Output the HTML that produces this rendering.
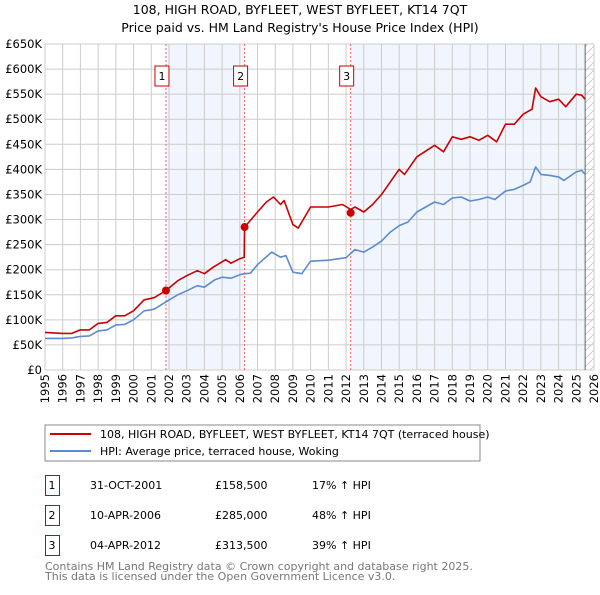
<!DOCTYPE html>
<html><head><meta charset="utf-8"><style>
body{margin:0;background:#fff;font-family:"Liberation Sans","DejaVu Sans",sans-serif}
svg text{font-family:"DejaVu Sans","Liberation Sans",sans-serif}
</style></head><body>
<svg id="chart" width="600" height="590" xmlns="http://www.w3.org/2000/svg">
<text x="300" y="14" text-anchor="middle" font-size="12.5">108, HIGH ROAD, BYFLEET, WEST BYFLEET, KT14 7QT</text>
<text x="300" y="32" text-anchor="middle" font-size="12.5">Price paid vs. HM Land Registry's House Price Index (HPI)</text>
<g id="plot"></g>
<rect x="45" y="425" width="435" height="36" fill="none" stroke="#888"/>
<line x1="50" y1="434" x2="91" y2="434" stroke="#cc0000" stroke-width="2"/>
<text x="100" y="438" font-size="11">108, HIGH ROAD, BYFLEET, WEST BYFLEET, KT14 7QT (terraced house)</text>
<line x1="50" y1="451" x2="91" y2="451" stroke="#5b8ccf" stroke-width="2"/>
<text x="100" y="455" font-size="11">HPI: Average price, terraced house, Woking</text>
<g font-size="11" id="table"></g>
<text x="45" y="570" font-size="11" fill="#777">Contains HM Land Registry data © Crown copyright and database right 2025.</text>
<text x="45" y="580" font-size="11" fill="#777">This data is licensed under the Open Government Licence v3.0.</text>
</svg>
<script>
const yearTicks=[1995,1996,1997,1998,1999,2000,2001,2002,2003,2004,2005,2006,2007,2008,2009,2010,2011,2012,2013,2014,2015,2016,2017,2018,2019,2020,2021,2022,2023,2024,2025,2026];
const priceTicks=[0,50,100,150,200,250,300,350,400,450,500,550,600,650];
const priceLabels=["£0","£50K","£100K","£150K","£200K","£250K","£300K","£350K","£400K","£450K","£500K","£550K","£600K","£650K"];
const hpiT=[1995,1996,1996.5,1997,1997.5,1998,1998.5,1999,1999.5,2000,2000.6,2001,2001.2,2001.83,2002.5,2003,2003.6,2004,2004.6,2005,2005.5,2006,2006.3,2006.6,2007,2007.8,2008.3,2008.6,2009,2009.5,2010,2011,2012,2012.5,2013,2013.5,2014,2014.5,2015,2015.5,2016,2017,2017.5,2018,2018.5,2019,2019.5,2020,2020.4,2021,2021.5,2022,2022.4,2022.7,2023,2023.5,2024,2024.3,2025,2025.3,2025.5];
const hpiV=[63,63,64,67,68,78,80,90,91,100,118,120,122,136,150,158,168,165,180,185,183,190,192,193,210,235,225,228,195,192,217,219,224,240,235,245,257,275,288,295,315,335,330,343,345,337,340,345,340,357,360,368,375,405,390,388,385,378,395,398,390];
const redT=[1995,1996,1996.5,1997,1997.5,1998,1998.5,1999,1999.5,2000,2000.6,2001,2001.2,2001.83,2002.5,2003,2003.6,2004,2004.5,2005.2,2005.5,2006,2006.25,2006.27,2007,2007.5,2007.9,2008.3,2008.5,2009,2009.3,2010,2011,2011.8,2012.26,2012.5,2013,2013.5,2014,2014.5,2015,2015.3,2016,2017,2017.5,2018,2018.5,2019,2019.5,2020,2020.5,2021,2021.5,2022,2022.5,2022.7,2023,2023.5,2024,2024.4,2025,2025.3,2025.5];
const redV=[75,73,73,80,80,93,95,108,108,118,140,143,145,158.5,178,188,198,192,205,220,213,222,225,285,315,335,345,330,338,290,283,325,325,330,320,325,315,330,350,375,400,390,425,448,435,465,460,465,458,468,455,490,490,510,520,562,545,535,540,525,550,548,540];
const saleT=[2001.83,2006.27,2012.26];
const saleV=[158.5,285,313.5];
const saleLabels=["1","2","3"];
const saleDates=["31-OCT-2001","10-APR-2006","04-APR-2012"];
const salePrices=["£158,500","£285,000","£313,500"];
const salePct=["17% ↑ HPI","48% ↑ HPI","39% ↑ HPI"];
const dataEnd=2025.5;
const X0=45,X1=594,Y0=370,Y1=44;
const xs=t=>X0+(t-1995)/31*(X1-X0);
const ys=v=>Y0-v/650*(Y0-Y1);
const NS="http://www.w3.org/2000/svg";
const g=document.getElementById('plot');
function mk(tag,attrs,parent){const e=document.createElementNS(NS,tag);for(const k in attrs)e.setAttribute(k,attrs[k]);(parent||g).appendChild(e);return e;}
// shading
let r=mk('rect',{x:xs(saleT[0]),y:Y1,width:xs(saleT[1])-xs(saleT[0]),height:Y0-Y1,fill:'#eef3fc',opacity:0.8});


r=mk('rect',{x:xs(saleT[2]),y:Y1,width:xs(dataEnd)-xs(saleT[2]),height:Y0-Y1,fill:'#eef3fc',opacity:0.8});


// hatch
const defs=mk('defs',{});
const pat=mk('pattern',{id:'hatch',width:8,height:8,patternUnits:'userSpaceOnUse'},defs);
mk('path',{d:'M0,8 L8,0',stroke:'#ccc','stroke-width':1},pat);
r=mk('rect',{x:xs(dataEnd),y:Y1,width:X1-xs(dataEnd),height:Y0-Y1,fill:'url(#hatch)'});


// grid
priceTicks.forEach((v,i)=>{
 const l=mk('line',{x1:X0,x2:X1,y1:ys(v),y2:ys(v),stroke:'#ccc','stroke-width':1});
 
 
 const t=mk('text',{x:X0-3,y:ys(v)+4,'text-anchor':'end','font-size':11.5});
 t.textContent=priceLabels[i];
 
 
});
yearTicks.forEach(y=>{
 const l=mk('line',{x1:xs(y),x2:xs(y),y1:Y1,y2:Y0,stroke:'#ccc','stroke-width':1});
 
 
 const t=mk('text',{x:xs(y)+4,y:Y0+4,'text-anchor':'end','font-size':11.5,transform:`rotate(-90 ${xs(y)+4} ${Y0+4})`});
 t.textContent=y;
 
 
});
let el=mk('line',{x1:xs(dataEnd),x2:xs(dataEnd),y1:Y1,y2:Y0,stroke:'#666','stroke-width':1});


// sale lines
saleT.forEach((t,i)=>{
 const l=mk('line',{x1:xs(t),x2:xs(t),y1:Y1,y2:Y0,stroke:'#e66','stroke-width':1,'stroke-dasharray':'2,2'});
 
 
 const b=mk('rect',{x:xs(t)-11,y:66,width:14,height:20,fill:'#fff',stroke:'#cc0000'});
 
 
 const tx=mk('text',{x:xs(t)-4,y:80,'text-anchor':'middle','font-size':11});
 tx.textContent=saleLabels[i];
 
 
});
function path(T,V,color,name){
 const d=T.map((t,i)=>(i?'L':'M')+xs(t).toFixed(1)+','+ys(V[i]).toFixed(1)).join('');
 const p=mk('path',{d:d,fill:'none',stroke:color,'stroke-width':1.6,'stroke-linejoin':'round'});
 
 
}
path(hpiT,hpiV,'#5b8ccf','hpi-line');
path(redT,redV,'#cc0000','property-price-line');
saleT.forEach((t,i)=>{
 const c=mk('circle',{cx:xs(t),cy:ys(saleV[i]),r:4,fill:'#cc0000'});
 
 
});
// table
const tb=document.getElementById('table');
saleLabels.forEach((s,i)=>{
 const y=475+i*30;
 const b=mk('rect',{x:45.5,y:y+0.5,width:14,height:20,fill:'none',stroke:'#cc0000'},tb);
 
 
 const cols=[[52,s,'middle'],[90,saleDates[i],'start'],[215,salePrices[i],'start'],[312,salePct[i],'start']];
 cols.forEach(c=>{
  const t=mk('text',{x:c[0],y:y+14,'text-anchor':c[2]},tb);
  t.textContent=c[1];
  
  
 });
});
</script>
</body></html>
